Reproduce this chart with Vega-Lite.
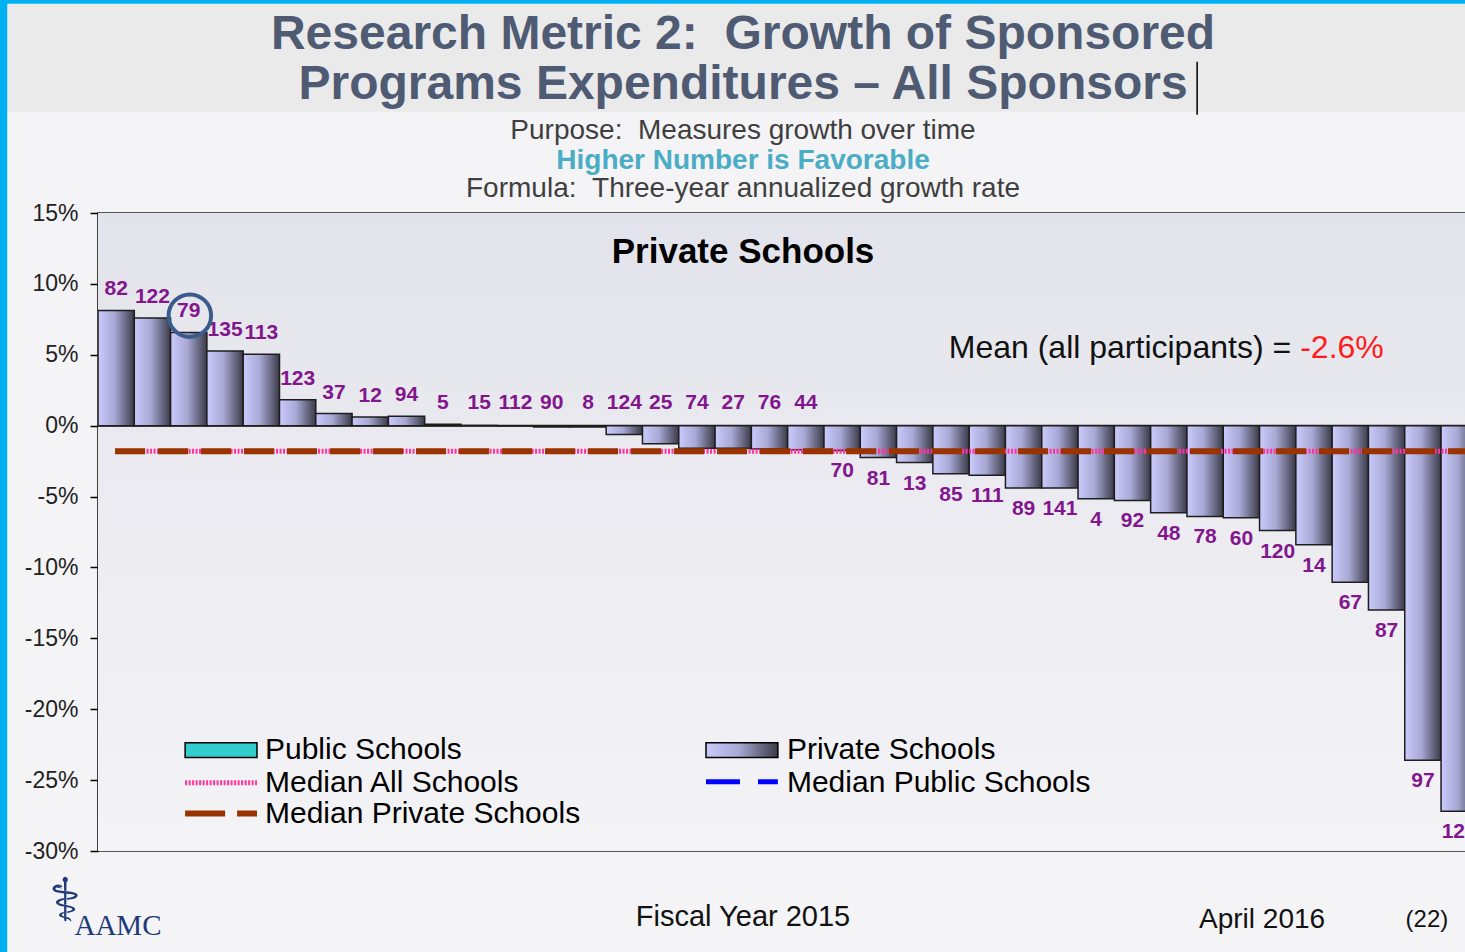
{
  "$schema": "https://vega.github.io/schema/vega-lite/v6.json",
  "width": 1367,
  "height": 638,
  "autosize": {"type": "none"},
  "padding": {"left": 98, "top": 213, "right": 0, "bottom": 101},
  "background": "#f4f4f6",
  "config": {
    "view": {"stroke": "#222222", "strokeWidth": 1.5},
    "font": "Liberation Sans",
    "scale": {"continuousPadding": 0},
    "axisX": {"disable": true},
    "axisY": {
      "grid": false,
      "domainColor": "#000000",
      "domainWidth": 1.5,
      "tickColor": "#000000",
      "tickWidth": 1.5,
      "tickSize": 8,
      "labelFont": "Liberation Sans",
      "labelFontSize": 23,
      "labelColor": "#222222",
      "labelPadding": 12,
      "tickCount": 10,
      "labelExpr": "datum.value + '%'"
    }
  },
  "datasets": {
    "bars": [
      {"idx": 1, "school": "82", "value": 8.13},
      {"idx": 2, "school": "122", "value": 7.6},
      {"idx": 3, "school": "79", "value": 6.58},
      {"idx": 4, "school": "135", "value": 5.26},
      {"idx": 5, "school": "113", "value": 5.03},
      {"idx": 6, "school": "123", "value": 1.83},
      {"idx": 7, "school": "37", "value": 0.85},
      {"idx": 8, "school": "12", "value": 0.61},
      {"idx": 9, "school": "94", "value": 0.66},
      {"idx": 10, "school": "5", "value": 0.1},
      {"idx": 11, "school": "15", "value": 0.02},
      {"idx": 12, "school": "112", "value": -0.02},
      {"idx": 13, "school": "90", "value": -0.1},
      {"idx": 14, "school": "8", "value": -0.1},
      {"idx": 15, "school": "124", "value": -0.63},
      {"idx": 16, "school": "25", "value": -1.27},
      {"idx": 17, "school": "74", "value": -1.6},
      {"idx": 18, "school": "27", "value": -1.6},
      {"idx": 19, "school": "76", "value": -1.65},
      {"idx": 20, "school": "44", "value": -1.7},
      {"idx": 21, "school": "70", "value": -1.75},
      {"idx": 22, "school": "81", "value": -2.25},
      {"idx": 23, "school": "13", "value": -2.6},
      {"idx": 24, "school": "85", "value": -3.4},
      {"idx": 25, "school": "111", "value": -3.5},
      {"idx": 26, "school": "89", "value": -4.4},
      {"idx": 27, "school": "141", "value": -4.4},
      {"idx": 28, "school": "4", "value": -5.15},
      {"idx": 29, "school": "92", "value": -5.27},
      {"idx": 30, "school": "48", "value": -6.15},
      {"idx": 31, "school": "78", "value": -6.4},
      {"idx": 32, "school": "60", "value": -6.5},
      {"idx": 33, "school": "120", "value": -7.4},
      {"idx": 34, "school": "14", "value": -8.4},
      {"idx": 35, "school": "67", "value": -11.05},
      {"idx": 36, "school": "87", "value": -13.0},
      {"idx": 37, "school": "97", "value": -23.6},
      {"idx": 38, "school": "121", "value": -27.2}
    ]
  },
  "data": {"values": [{}]},
  "layer": [
    {
      "mark": {"type": "rect", "color": "#eaeaeb"},
      "encoding": {
        "x": {"datum": -2.2, "type": "quantitative", "scale": {"domain": [0.5, 38.16], "nice": false, "zero": false, "padding": 0}, "title": null},
        "x2": {"datum": 38.4},
        "y": {"datum": 29.76, "type": "quantitative", "scale": {"domain": [-30, 15], "nice": false, "zero": false}, "title": null},
        "y2": {"datum": 22.14}
      }
    },
    {
      "mark": {"type": "rect", "color": "#00b0f0"},
      "encoding": {
        "x": {"datum": -2.2, "type": "quantitative"},
        "x2": {"datum": -2.0},
        "y": {"datum": 30.2, "type": "quantitative", "title": null},
        "y2": {"datum": -37.3}
      }
    },
    {
      "mark": {"type": "rect", "color": "#00b0f0"},
      "encoding": {
        "x": {"datum": -2.2, "type": "quantitative"},
        "x2": {"datum": 38.4},
        "y": {"datum": 30.2, "type": "quantitative", "title": null},
        "y2": {"datum": 29.76}
      }
    },
    {
      "mark": {
        "type": "rect",
        "color": {"gradient": "linear", "x1": 0, "y1": 0, "x2": 0, "y2": 1,
          "stops": [{"offset": 0, "color": "#e3e3eb"}, {"offset": 1, "color": "#f4f4f7"}]}
      },
      "encoding": {
        "x": {"datum": 0.5, "type": "quantitative"},
        "x2": {"datum": 38.16},
        "y": {"datum": 15, "type": "quantitative", "title": null},
        "y2": {"datum": -30}
      }
    },
    {
      "mark": {"type": "rule", "color": "#222222", "strokeWidth": 2},
      "encoding": {
        "x": {"datum": 0.5, "type": "quantitative"},
        "x2": {"datum": 38.16},
        "y": {"datum": 0, "type": "quantitative", "title": null}
      }
    },
    {
      "data": {"name": "bars"},
      "mark": {
        "type": "bar",
        "width": 36.3,
        "clip": true,
        "stroke": "#1e1e1e",
        "strokeWidth": 1.5,
        "color": {"gradient": "linear", "x1": 0, "y1": 0, "x2": 1, "y2": 0,
          "stops": [{"offset": 0, "color": "#cacafc"}, {"offset": 0.45, "color": "#a9a9d6"}, {"offset": 1, "color": "#3a3a48"}]}
      },
      "encoding": {
        "x": {"field": "idx", "type": "quantitative", "scale": {"domain": [0.5, 38.16], "nice": false, "zero": false, "padding": 0}, "title": null},
        "y": {"field": "value", "type": "quantitative", "scale": {"domain": [-30, 15], "nice": false, "zero": false}, "title": null}
      }
    },
    {
      "mark": {"type": "rule", "color": "#ff3399", "strokeWidth": 5, "strokeDash": [2, 1.5]},
      "encoding": {
        "x": {"datum": 0.97, "type": "quantitative"},
        "x2": {"datum": 38.16},
        "y": {"datum": -1.8, "type": "quantitative", "title": null}
      }
    },
    {
      "mark": {"type": "rule", "color": "#993300", "strokeWidth": 6, "strokeDash": [30, 13]},
      "encoding": {
        "x": {"datum": 0.97, "type": "quantitative"},
        "x2": {"datum": 38.16},
        "y": {"datum": -1.8, "type": "quantitative", "title": null}
      }
    },
    {
      "data": {"name": "bars"},
      "transform": [{"filter": "datum.idx <= 9"}],
      "mark": {"type": "text", "clip": true, "font": "Liberation Sans", "fontWeight": "bold", "fontSize": 21, "color": "#82168c", "baseline": "middle", "dy": -21},
      "encoding": {
        "x": {"field": "idx", "type": "quantitative", "title": null},
        "y": {"field": "value", "type": "quantitative", "title": null},
        "text": {"field": "school"}
      }
    },
    {
      "data": {"name": "bars"},
      "transform": [{"filter": "datum.idx >= 10 && datum.idx <= 20"}],
      "mark": {"type": "text", "clip": true, "font": "Liberation Sans", "fontWeight": "bold", "fontSize": 21, "color": "#82168c", "baseline": "middle", "dy": -23},
      "encoding": {
        "x": {"field": "idx", "type": "quantitative", "title": null},
        "y": {"datum": 0, "type": "quantitative", "title": null},
        "text": {"field": "school"}
      }
    },
    {
      "data": {"name": "bars"},
      "transform": [{"filter": "datum.idx >= 21"}],
      "mark": {"type": "text", "clip": true, "font": "Liberation Sans", "fontWeight": "bold", "fontSize": 21, "color": "#82168c", "baseline": "middle", "dy": 21},
      "encoding": {
        "x": {"field": "idx", "type": "quantitative", "title": null},
        "y": {"field": "value", "type": "quantitative", "title": null},
        "text": {"field": "school"}
      }
    },
    {
      "mark": {"type": "point", "shape": "circle", "filled": false, "size": 1810, "stroke": "#3b5b8c", "strokeWidth": 4, "opacity": 1},
      "encoding": {
        "x": {"datum": 3.03, "type": "quantitative"},
        "y": {"datum": 7.76, "type": "quantitative", "title": null}
      }
    },
    {
      "mark": {"type": "text", "text": "Private Schools", "font": "Liberation Sans", "fontWeight": "bold", "fontSize": 35, "color": "#000000", "align": "center", "baseline": "middle"},
      "encoding": {
        "x": {"datum": 18.27, "type": "quantitative"},
        "y": {"datum": 12.27, "type": "quantitative", "title": null}
      }
    },
    {
      "mark": {"type": "text", "text": "Mean (all participants) =", "font": "Liberation Sans", "fontSize": 32, "color": "#111111", "align": "right", "baseline": "middle"},
      "encoding": {
        "x": {"datum": 33.37, "type": "quantitative"},
        "y": {"datum": 5.5, "type": "quantitative", "title": null}
      }
    },
    {
      "mark": {"type": "text", "text": "-2.6%", "font": "Liberation Sans", "fontSize": 32, "color": "#ff1a1a", "align": "left", "baseline": "middle"},
      "encoding": {
        "x": {"datum": 33.62, "type": "quantitative"},
        "y": {"datum": 5.5, "type": "quantitative", "title": null}
      }
    },
    {
      "mark": {"type": "rect", "color": "#33cccc", "stroke": "#000000", "strokeWidth": 1.5},
      "encoding": {
        "x": {"datum": 2.9, "type": "quantitative"},
        "x2": {"datum": 4.88},
        "y": {"datum": -22.36, "type": "quantitative", "title": null},
        "y2": {"datum": -23.41}
      }
    },
    {
      "mark": {"type": "rect", "stroke": "#000000", "strokeWidth": 1.5,
        "color": {"gradient": "linear", "x1": 0, "y1": 0, "x2": 1, "y2": 0,
          "stops": [{"offset": 0, "color": "#cacafc"}, {"offset": 0.45, "color": "#a9a9d6"}, {"offset": 1, "color": "#3a3a48"}]}},
      "encoding": {
        "x": {"datum": 17.25, "type": "quantitative"},
        "x2": {"datum": 19.23},
        "y": {"datum": -22.36, "type": "quantitative", "title": null},
        "y2": {"datum": -23.41}
      }
    },
    {
      "mark": {"type": "rule", "color": "#ff3399", "strokeWidth": 5, "strokeDash": [2, 1.5]},
      "encoding": {
        "x": {"datum": 2.9, "type": "quantitative"},
        "x2": {"datum": 4.88},
        "y": {"datum": -25.18, "type": "quantitative", "title": null}
      }
    },
    {
      "mark": {"type": "rule", "color": "#0000ff", "strokeWidth": 5, "strokeDash": [34, 18]},
      "encoding": {
        "x": {"datum": 17.25, "type": "quantitative"},
        "x2": {"datum": 19.23},
        "y": {"datum": -25.11, "type": "quantitative", "title": null}
      }
    },
    {
      "mark": {"type": "rule", "color": "#993300", "strokeWidth": 6, "strokeDash": [40, 12]},
      "encoding": {
        "x": {"datum": 2.9, "type": "quantitative"},
        "x2": {"datum": 4.88},
        "y": {"datum": -27.36, "type": "quantitative", "title": null}
      }
    },
    {
      "mark": {"type": "text", "text": "Public Schools", "font": "Liberation Sans", "fontSize": 30, "color": "#000000", "align": "left", "baseline": "middle"},
      "encoding": {
        "x": {"datum": 5.1, "type": "quantitative"},
        "y": {"datum": -22.85, "type": "quantitative", "title": null}
      }
    },
    {
      "mark": {"type": "text", "text": "Private Schools", "font": "Liberation Sans", "fontSize": 30, "color": "#000000", "align": "left", "baseline": "middle"},
      "encoding": {
        "x": {"datum": 19.48, "type": "quantitative"},
        "y": {"datum": -22.85, "type": "quantitative", "title": null}
      }
    },
    {
      "mark": {"type": "text", "text": "Median All Schools", "font": "Liberation Sans", "fontSize": 30, "color": "#000000", "align": "left", "baseline": "middle"},
      "encoding": {
        "x": {"datum": 5.1, "type": "quantitative"},
        "y": {"datum": -25.18, "type": "quantitative", "title": null}
      }
    },
    {
      "mark": {"type": "text", "text": "Median Public Schools", "font": "Liberation Sans", "fontSize": 30, "color": "#000000", "align": "left", "baseline": "middle"},
      "encoding": {
        "x": {"datum": 19.48, "type": "quantitative"},
        "y": {"datum": -25.18, "type": "quantitative", "title": null}
      }
    },
    {
      "mark": {"type": "text", "text": "Median Private Schools", "font": "Liberation Sans", "fontSize": 30, "color": "#000000", "align": "left", "baseline": "middle"},
      "encoding": {
        "x": {"datum": 5.1, "type": "quantitative"},
        "y": {"datum": -27.4, "type": "quantitative", "title": null}
      }
    },
    {
      "mark": {"type": "text", "text": "Research Metric 2: \u00a0Growth of Sponsored", "font": "Liberation Sans", "fontWeight": "bold", "fontSize": 48, "color": "#4f5b73", "align": "center", "baseline": "middle"},
      "encoding": {
        "x": {"datum": 18.27, "type": "quantitative"},
        "y": {"datum": 27.57, "type": "quantitative", "title": null}
      }
    },
    {
      "mark": {"type": "text", "text": "Programs Expenditures – All Sponsors", "font": "Liberation Sans", "fontWeight": "bold", "fontSize": 48, "color": "#4f5b73", "align": "center", "baseline": "middle"},
      "encoding": {
        "x": {"datum": 18.27, "type": "quantitative"},
        "y": {"datum": 24.05, "type": "quantitative", "title": null}
      }
    },
    {
      "mark": {"type": "rule", "color": "#000000", "strokeWidth": 1.5},
      "encoding": {
        "x": {"datum": 30.78, "type": "quantitative"},
        "y": {"datum": 25.67, "type": "quantitative", "title": null},
        "y2": {"datum": 21.93}
      }
    },
    {
      "mark": {"type": "text", "text": "Purpose: \u00a0Measures growth over time", "font": "Liberation Sans", "fontSize": 28, "color": "#3f3f3f", "align": "center", "baseline": "middle"},
      "encoding": {
        "x": {"datum": 18.27, "type": "quantitative"},
        "y": {"datum": 20.8, "type": "quantitative", "title": null}
      }
    },
    {
      "mark": {"type": "text", "text": "Higher Number is Favorable", "font": "Liberation Sans", "fontWeight": "bold", "fontSize": 28, "color": "#4aacc5", "align": "center", "baseline": "middle"},
      "encoding": {
        "x": {"datum": 18.27, "type": "quantitative"},
        "y": {"datum": 18.69, "type": "quantitative", "title": null}
      }
    },
    {
      "mark": {"type": "text", "text": "Formula: \u00a0Three-year annualized growth rate", "font": "Liberation Sans", "fontSize": 28, "color": "#3f3f3f", "align": "center", "baseline": "middle"},
      "encoding": {
        "x": {"datum": 18.27, "type": "quantitative"},
        "y": {"datum": 16.71, "type": "quantitative", "title": null}
      }
    },
    {
      "mark": {"type": "text", "text": "Fiscal Year 2015", "font": "Liberation Sans", "fontSize": 29, "color": "#111111", "align": "center", "baseline": "middle"},
      "encoding": {
        "x": {"datum": 18.27, "type": "quantitative"},
        "y": {"datum": -34.63, "type": "quantitative", "title": null}
      }
    },
    {
      "mark": {"type": "text", "text": "April 2016", "font": "Liberation Sans", "fontSize": 28, "color": "#111111", "align": "center", "baseline": "middle"},
      "encoding": {
        "x": {"datum": 32.57, "type": "quantitative"},
        "y": {"datum": -34.84, "type": "quantitative", "title": null}
      }
    },
    {
      "mark": {"type": "text", "text": "(22)", "font": "Liberation Sans", "fontSize": 24, "color": "#111111", "align": "center", "baseline": "middle"},
      "encoding": {
        "x": {"datum": 37.11, "type": "quantitative"},
        "y": {"datum": -34.84, "type": "quantitative", "title": null}
      }
    },
    {
      "mark": {"type": "text", "text": "AAMC", "font": "Liberation Serif", "fontSize": 29, "color": "#1f3a78", "align": "center", "baseline": "middle"},
      "encoding": {
        "x": {"datum": 1.05, "type": "quantitative"},
        "y": {"datum": -35.3, "type": "quantitative", "title": null}
      }
    },
    {
      "mark": {"type": "text", "text": "⚕", "font": "DejaVu Sans", "fontWeight": "bold", "fontSize": 60, "color": "#1f3a78", "align": "center", "baseline": "middle"},
      "encoding": {
        "x": {"datum": -0.4, "type": "quantitative"},
        "y": {"datum": -33.7, "type": "quantitative", "title": null}
      }
    }
  ]
}
